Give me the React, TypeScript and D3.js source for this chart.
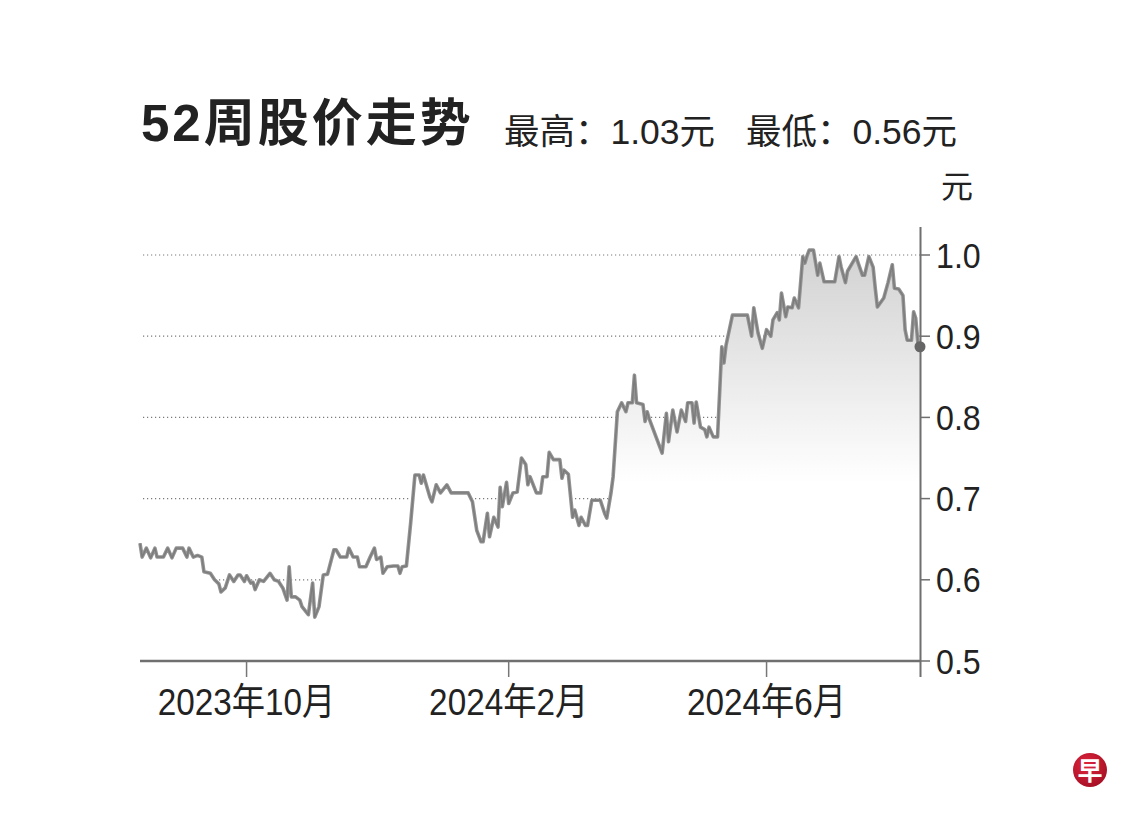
import * as d3 from "d3";

const title = "52周股价走势";
const summary = ["最高：1.03元", "最低：0.56元"];
const unit = "元";

const dates = [
  "2023-08-12", "2023-08-13", "2023-08-15", "2023-08-17", "2023-08-19", "2023-08-20", "2023-08-23", "2023-08-25",
  "2023-08-27", "2023-08-29", "2023-09-01", "2023-09-03", "2023-09-04", "2023-09-06", "2023-09-08", "2023-09-10",
  "2023-09-11", "2023-09-14", "2023-09-16", "2023-09-18", "2023-09-19", "2023-09-21", "2023-09-23", "2023-09-25",
  "2023-09-27", "2023-09-28", "2023-09-30", "2023-10-01", "2023-10-03", "2023-10-04", "2023-10-05", "2023-10-07",
  "2023-10-09", "2023-10-12", "2023-10-14", "2023-10-16", "2023-10-18", "2023-10-20", "2023-10-21", "2023-10-22",
  "2023-10-24", "2023-10-26", "2023-10-27", "2023-10-30", "2023-11-01", "2023-11-02", "2023-11-04", "2023-11-06",
  "2023-11-08", "2023-11-11", "2023-11-12", "2023-11-14", "2023-11-17", "2023-11-18", "2023-11-20", "2023-11-22",
  "2023-11-23", "2023-11-26", "2023-11-28", "2023-11-30", "2023-12-01", "2023-12-03", "2023-12-04", "2023-12-06",
  "2023-12-09", "2023-12-11", "2023-12-12", "2023-12-13", "2023-12-15", "2023-12-17", "2023-12-19", "2023-12-21",
  "2023-12-22", "2023-12-23", "2023-12-26", "2023-12-27", "2023-12-29", "2023-12-31", "2024-01-03", "2024-01-05",
  "2024-01-13", "2024-01-15", "2024-01-17", "2024-01-19", "2024-01-20", "2024-01-22", "2024-01-23", "2024-01-25",
  "2024-01-27", "2024-01-28", "2024-01-29", "2024-01-31", "2024-02-01", "2024-02-03", "2024-02-05", "2024-02-07",
  "2024-02-09", "2024-02-10", "2024-02-11", "2024-02-14", "2024-02-16", "2024-02-17", "2024-02-19", "2024-02-20",
  "2024-02-22", "2024-02-25", "2024-02-26", "2024-02-27", "2024-02-29", "2024-03-02", "2024-03-03", "2024-03-05",
  "2024-03-06", "2024-03-08", "2024-03-09", "2024-03-11", "2024-03-15", "2024-03-17", "2024-03-18", "2024-03-20",
  "2024-03-21", "2024-03-23", "2024-03-25", "2024-03-27", "2024-03-28", "2024-03-30", "2024-03-31", "2024-04-01",
  "2024-04-04", "2024-04-05", "2024-04-06", "2024-04-07", "2024-04-13", "2024-04-15", "2024-04-16", "2024-04-18",
  "2024-04-20", "2024-04-22", "2024-04-24", "2024-04-25", "2024-04-27", "2024-04-28", "2024-04-29", "2024-05-01",
  "2024-05-03", "2024-05-04", "2024-05-05", "2024-05-07", "2024-05-09", "2024-05-11", "2024-05-12", "2024-05-13",
  "2024-05-16", "2024-05-23", "2024-05-25", "2024-05-26", "2024-05-28", "2024-05-30", "2024-06-01", "2024-06-03",
  "2024-06-04", "2024-06-06", "2024-06-07", "2024-06-08", "2024-06-10", "2024-06-11", "2024-06-13", "2024-06-14",
  "2024-06-16", "2024-06-18", "2024-06-19", "2024-06-20", "2024-06-21", "2024-06-23", "2024-06-25", "2024-06-26",
  "2024-06-28", "2024-07-03", "2024-07-05", "2024-07-06", "2024-07-08", "2024-07-09", "2024-07-13", "2024-07-14",
  "2024-07-16", "2024-07-17", "2024-07-19", "2024-07-21", "2024-07-22", "2024-07-23", "2024-07-26", "2024-07-28",
  "2024-07-30", "2024-07-31", "2024-08-02", "2024-08-04", "2024-08-05", "2024-08-06", "2024-08-08", "2024-08-09",
  "2024-08-10", "2024-08-11", "2024-08-12",
];

const prices = [
  0.645, 0.628, 0.639, 0.627, 0.639, 0.628, 0.628, 0.639,
  0.627, 0.639, 0.639, 0.628, 0.639, 0.628, 0.630, 0.628,
  0.610, 0.608, 0.600, 0.595, 0.585, 0.590, 0.606, 0.598,
  0.606, 0.606, 0.598, 0.605, 0.596, 0.597, 0.588, 0.600,
  0.598, 0.608, 0.600, 0.598, 0.590, 0.575, 0.616, 0.579,
  0.579, 0.575, 0.567, 0.557, 0.596, 0.554, 0.567, 0.606,
  0.607, 0.637, 0.637, 0.628, 0.628, 0.639, 0.628, 0.628,
  0.616, 0.616, 0.628, 0.639, 0.625, 0.628, 0.608, 0.616,
  0.617, 0.617, 0.608, 0.616, 0.617, 0.670, 0.729, 0.729,
  0.719, 0.729, 0.702, 0.696, 0.717, 0.707, 0.717, 0.707,
  0.707, 0.696, 0.661, 0.647, 0.647, 0.682, 0.653, 0.677,
  0.665, 0.714, 0.690, 0.720, 0.694, 0.707, 0.708, 0.750,
  0.742, 0.717, 0.727, 0.707, 0.707, 0.727, 0.727, 0.757,
  0.748, 0.748, 0.725, 0.735, 0.730, 0.677, 0.686, 0.667,
  0.677, 0.667, 0.667, 0.698, 0.698, 0.682, 0.676, 0.707,
  0.727, 0.807, 0.818, 0.807, 0.818, 0.818, 0.852, 0.818,
  0.816, 0.795, 0.807, 0.798, 0.756, 0.805, 0.770, 0.809,
  0.782, 0.809, 0.795, 0.818, 0.818, 0.793, 0.819, 0.788,
  0.785, 0.776, 0.788, 0.776, 0.776, 0.887, 0.867, 0.889,
  0.926, 0.926, 0.900, 0.935, 0.904, 0.885, 0.908, 0.900,
  0.920, 0.929, 0.920, 0.953, 0.924, 0.936, 0.935, 0.947,
  0.935, 0.998, 0.990, 0.999, 1.006, 1.006, 0.975, 0.990,
  0.967, 0.967, 0.998, 0.985, 0.966, 0.980, 0.998, 0.990,
  0.975, 0.975, 0.998, 0.985, 0.959, 0.936, 0.947, 0.966,
  0.988, 0.959, 0.958, 0.950, 0.908, 0.895, 0.895, 0.930,
  0.922, 0.892, 0.887,
];

const yTicks = [0.5, 0.6, 0.7, 0.8, 0.9, 1.0];
const gridTicks = [0.6, 0.7, 0.8, 0.9, 1.0];
const xTickDates = ["2023-10-01", "2024-02-01", "2024-06-01"];
const xTickLabels = ["2023年10月", "2024年2月", "2024年6月"];
const domainDates = ["2023-08-12", "2024-08-12"];

const parse = d3.timeParse("%Y-%m-%d");
const latin = "'Liberation Sans', Arial, 'Noto Sans CJK SC', sans-serif";
const cjk = "'Noto Sans CJK SC', 'Liberation Sans', sans-serif";

export default function App() {
  const width = 1140;
  const height = 820;
  const left = 140;
  const right = 920;
  const top = 255;
  const bottom = 661;

  const points = dates.map((d, i) => ({ date: parse(d) as Date, value: prices[i] }));

  const x = d3.scaleTime().domain(domainDates.map((d) => parse(d) as Date)).range([left, right]);
  const y = d3.scaleLinear().domain([0.5, 1.0]).range([bottom, top]);

  const line = d3
    .line<{ date: Date; value: number }>()
    .x((d) => x(d.date))
    .y((d) => y(d.value));
  const area = d3
    .area<{ date: Date; value: number }>()
    .x((d) => x(d.date))
    .y0(bottom)
    .y1((d) => y(d.value));

  const last = points[points.length - 1];

  return (
    <svg
      width={width}
      height={height}
      viewBox={`0 0 ${width} ${height}`}
      style={{ position: "absolute", left: 0, top: 0, background: "#fff" }}
    >
      <defs>
        <linearGradient id="areaFill" gradientUnits="userSpaceOnUse" x1="0" x2="0" y1={y(1.0)} y2={y(0.72)}>
          <stop offset="0%" stopColor="#d3d3d3" />
          <stop offset="45%" stopColor="#e6e6e6" />
          <stop offset="100%" stopColor="#ffffff" />
        </linearGradient>
        <radialGradient id="logoFill" cx="40%" cy="35%" r="70%">
          <stop offset="0%" stopColor="#e0263e" />
          <stop offset="100%" stopColor="#a50f24" />
        </radialGradient>
      </defs>

      <rect x={0} y={0} width={width} height={height} fill="#fff" />

      {/* title row */}
      <text x={141} y={141} fontFamily={latin} fontWeight="bold" fontSize={51} fill="#222" letterSpacing={3}>
        {title}
      </text>
      <text x={504} y={144} fontFamily={latin} fontSize={35.5} fill="#222">
        {summary[0]}
      </text>
      <text x={746} y={144} fontFamily={latin} fontSize={35.5} fill="#222">
        {summary[1]}
      </text>
      <text x={941} y={198} fontFamily={cjk} fontSize={32} fill="#222">
        {unit}
      </text>

      {/* grid */}
      {gridTicks.map((t) => (
        <line
          key={`g-${t}`}
          x1={left + 3}
          x2={right}
          y1={y(t)}
          y2={y(t)}
          stroke="#7a7a7a"
          strokeWidth={1.2}
          strokeDasharray="1.2 2.8"
        />
      ))}

      {/* price area and line */}
      <path d={area(points) ?? ""} fill="url(#areaFill)" />
      <path d={line(points) ?? ""} fill="none" stroke="#939393" strokeWidth={3.6} strokeLinejoin="round" />
      <path d={line(points) ?? ""} fill="none" stroke="#7c7c7c" strokeWidth={1.4} strokeLinejoin="round" />

      {/* x axis */}
      <line x1={left} x2={right} y1={bottom} y2={bottom} stroke="#6f6f6f" strokeWidth={2.5} />
      {xTickDates.map((d, i) => {
        const tx = x(parse(d) as Date);
        return (
          <g key={d}>
            <line x1={tx} x2={tx} y1={bottom} y2={bottom + 16} stroke="#777" strokeWidth={1.5} />
            <g transform={`translate(${tx},${bottom + 54})`}>
              <text transform="scale(0.9,1)" textAnchor="middle" fontFamily={latin} fontSize={37} fill="#222">
                {xTickLabels[i]}
              </text>
            </g>
          </g>
        );
      })}

      {/* y axis */}
      <line x1={right + 0.5} x2={right + 0.5} y1={227} y2={bottom + 16} stroke="#6f6f6f" strokeWidth={2} />
      {yTicks.map((t) => (
        <g key={`y-${t}`}>
          <line x1={right} x2={right + 10} y1={y(t)} y2={y(t)} stroke="#6f6f6f" strokeWidth={1.5} />
          <g transform={`translate(${right + 16},${y(t) + 12.5})`}>
            <text transform="scale(0.92,1)" fontFamily={latin} fontSize={35} fill="#222">
              {d3.format(".1f")(t)}
            </text>
          </g>
        </g>
      ))}

      {/* last price marker */}
      <circle cx={x(last.date)} cy={y(last.value)} r={5.5} fill="#666" />

      {/* logo */}
      <circle cx={1090} cy={770} r={17} fill="url(#logoFill)" />
      <text
        x={1090}
        y={780}
        textAnchor="middle"
        fontFamily={cjk}
        fontWeight="bold"
        fontSize={25}
        fill="#fff"
      >
        早
      </text>
    </svg>
  );
}
